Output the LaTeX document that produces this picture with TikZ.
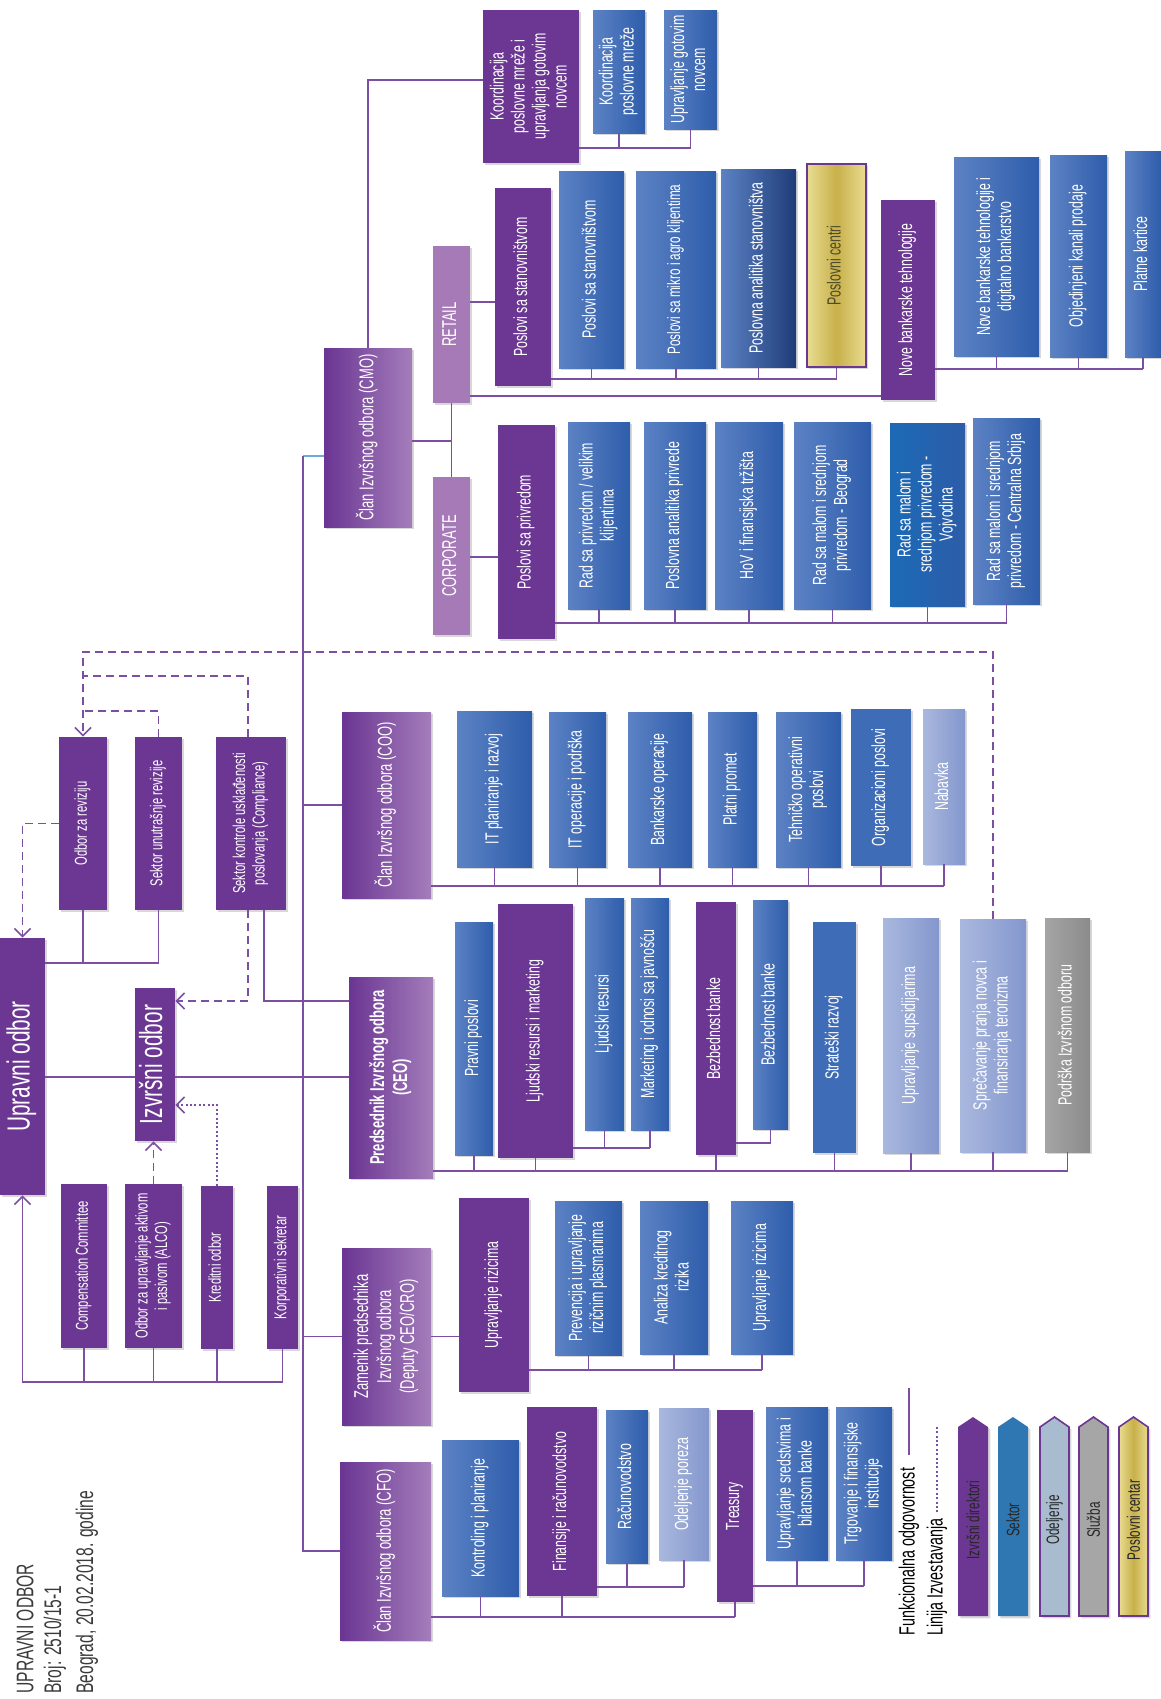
\documentclass[tikz,border=0pt]{standalone}
\usepackage{fontspec}
\setmainfont{Liberation Sans}[FakeStretch=0.65]
\usepackage{graphicx}
\usetikzlibrary{arrows.meta,shadows}
\definecolor{pp}{HTML}{6B3793}
\definecolor{memL}{HTML}{6A3593}
\definecolor{memR}{HTML}{A47DBA}
\definecolor{lpur}{HTML}{A67AB6}
\definecolor{blL}{HTML}{5C82C4}
\definecolor{blR}{HTML}{2E5DAB}
\definecolor{blS}{HTML}{3F6CB7}
\definecolor{navy}{HTML}{1F3C78}
\definecolor{sekL}{HTML}{1C6AB6}
\definecolor{sekR}{HTML}{2D5CA8}
\definecolor{liL}{HTML}{A9B8DE}
\definecolor{liR}{HTML}{8497CD}
\definecolor{grL}{HTML}{A5A5A5}
\definecolor{grR}{HTML}{8B8B8B}
\definecolor{goL}{HTML}{E9DC92}
\definecolor{goM}{HTML}{C8B04A}
\definecolor{goT}{HTML}{4B4A2A}
\definecolor{lc}{HTML}{7D4FA3}
\definecolor{lcb}{HTML}{6FA8DC}
\definecolor{hdr}{HTML}{3A3A3A}
\definecolor{lgSek}{HTML}{2F77B2}
\definecolor{lgOd}{HTML}{A9BCCF}
\definecolor{lgSl}{HTML}{A6A6A6}
\tikzset{
 bx/.style={draw=none, inner sep=0pt, text=white, font=\fontsize{9.5}{10.5}\selectfont,
   drop shadow={shadow xshift=1.2pt,shadow yshift=-1.2pt,opacity=0.3}},
 pur/.style={fill=pp},
 mem/.style={left color=memL, right color=memR},
 lpbox/.style={fill=lpur},
 blu/.style={left color=blL, right color=blR},
 bludark/.style={left color=blL, right color=navy},
 blusolid/.style={fill=blS},
 sek/.style={left color=sekL, right color=sekR},
 lite/.style={left color=liL, right color=liR},
 gray/.style={left color=grL, right color=grR},
 gold/.style={left color=goL, right color=goL, middle color=goM, draw=pp, line width=0.8pt, text=goT},
 fbig/.style={font=\fontsize{16}{18}\selectfont},
 fmem/.style={font=\fontsize{10}{11.5}\selectfont},
 fmemb/.style={font=\bfseries\fontsize{10}{11.5}\selectfont},
 fcom/.style={font=\fontsize{8.6}{9.8}\selectfont},
 fsm/.style={font=\fontsize{9}{10}\selectfont},
 ln/.style={draw=lc, line width=0.8pt},
 lnb/.style={draw=lcb, line width=0.8pt},
 dsh/.style={draw=lc, line width=0.8pt, dash pattern=on 4pt off 2.5pt},
 dotl/.style={draw=lc, line width=0.8pt, dash pattern=on 1pt off 1.2pt},
 arr/.style={-{Straight Barb[length=4pt,width=8pt]}},
 hdrtxt/.style={rotate=90, anchor=west, text=hdr, font=\fontsize{12}{13}\selectfont, inner sep=0pt},
 lgtxt/.style={rotate=90, anchor=west, text=black, font=\fontsize{11}{12}\selectfont, inner sep=0pt},
 lgbox/.style={rotate=90, text=black!85, font=\fontsize{9}{10}\selectfont, inner sep=0pt},
}
\newcommand\obx[7]{%
  \pgfmathsetmacro\obw{(#5-#3)*0.5}%
  \pgfmathsetmacro\obh{(#6-#4)*0.5}%
  \node[bx,#2,minimum width=\obw pt,minimum height=\obh pt] (#1) at ({(#3+#5)/2},{(#4+#6)/2})
    {\rotatebox{90}{\begin{tabular}{@{}c@{}}#7\end{tabular}}};}
\begin{document}
\begin{tikzpicture}[x=0.5pt,y=-0.5pt]
\fill[white] (0,0) rectangle (1161,1699);
\useasboundingbox (0,0) rectangle (1161,1699);

% header text
\node[hdrtxt] (h1) at (25,1694) {UPRAVNI ODBOR};
\node[hdrtxt] (h2) at (55,1694) {Broj: 2510/15-1};
\node[hdrtxt] (h3) at (87,1694) {Beograd, 20.02.2018. godine};

% bus levels
\coordinate (y80) at (0,80);
\coordinate (y148) at (0,148);
\coordinate (y302) at (0,302);
\coordinate (y369) at (0,369);
\coordinate (y379) at (0,379);
\coordinate (y396) at (0,396);
\coordinate (y441) at (0,441);
\coordinate (y557) at (0,557);
\coordinate (y623) at (0,623);
\coordinate (y652) at (0,652);
\coordinate (y676) at (0,676);
\coordinate (y711) at (0,711);
\coordinate (y886) at (0,886);
\coordinate (y963) at (0,963);
\coordinate (y1001) at (0,1001);
\coordinate (y1077) at (0,1077);
\coordinate (y1105) at (0,1105);
\coordinate (y1143) at (0,1143);
\coordinate (y1148) at (0,1148);
\coordinate (y1171) at (0,1171);
\coordinate (y1370) at (0,1370);
\coordinate (y1382) at (0,1382);
\coordinate (y1586) at (0,1586);
\coordinate (y1587) at (0,1587);
\coordinate (y1617) at (0,1617);
\coordinate (mvtop) at (303,456);

% governance
\obx{upravni}{pur,fbig}{0}{938}{45}{1195}{Upravni odbor}
\obx{izvrsni}{pur,fbig}{135}{988}{175}{1141}{Izvršni odbor}
\obx{odbor}{pur,fcom}{59}{737}{107}{910}{Odbor za reviziju}
\obx{sektorur}{pur,fcom}{135}{737}{182}{910}{Sektor unutrašnje revizije}
\obx{comp}{pur,fcom}{216}{737}{286}{910}{Sektor kontrole usklađenosti\\poslovanja (Compliance)}
\obx{compcom}{pur,fcom}{61}{1184}{107}{1348}{Compensation Committee}
\obx{alco}{pur,fcom}{125}{1184}{182}{1348}{Odbor za upravljanje aktivom\\i pasivom (ALCO)}
\obx{kred}{pur,fcom}{201}{1186}{233}{1349}{Kreditni odbor}
\obx{korp}{pur,fcom}{267}{1186}{298}{1349}{Korporativni sekretar}

% CMO
\obx{cmo}{mem,fmem}{324}{348}{412}{527}{Član Izvršnog odbora (CMO)}
\obx{retail}{lpbox,fmem}{433}{246}{470}{403}{RETAIL}
\obx{corporate}{lpbox,fmem}{433}{477}{470}{635}{CORPORATE}
\obx{koord}{pur}{483}{10}{579}{163}{Koordinacija\\poslovne mreže i\\upravljanja gotovim\\novcem}
\obx{koordpm}{blu}{593}{10}{645}{133}{Koordinacija\\poslovne mreže}
\obx{upgot}{blu}{664}{10}{717}{129}{Upravljanje gotovim\\novcem}
\obx{pss}{pur}{495}{188}{551}{386}{Poslovi sa stanovništvom}
\obx{pssb}{blu}{559}{171}{624}{368}{Poslovi sa stanovništvom}
\obx{mikro}{blu,fsm}{636}{171}{716}{368}{Poslovi sa mikro i agro klijentima}
\obx{analst}{bludark}{721}{169}{796}{367}{Poslovna analitika stanovništva}
\obx{pcentri}{gold}{807}{164}{866}{367}{Poslovni centri}
\obx{nbt}{pur}{881}{200}{935}{400}{Nove bankarske tehnologije}
\obx{nbtd}{blu}{954}{157}{1039}{356}{Nove bankarske tehnologije i\\digitalno bankarstvo}
\obx{okp}{blu}{1050}{155}{1107}{357}{Objedinjeni kanali prodaje}
\obx{platne}{blu}{1125}{151}{1161}{357}{Platne kartice}
\obx{pspriv}{pur}{498}{425}{555}{639}{Poslovi sa privredom}
\obx{velik}{blu}{568}{422}{630}{609}{Rad sa privredom / velikim\\klijentima}
\obx{analpriv}{blu}{644}{422}{706}{609}{Poslovna analitika privrede}
\obx{hov}{blu}{715}{422}{783}{609}{HoV i finansijska tržišta}
\obx{bgd}{blu}{794}{422}{871}{609}{Rad sa  malom i srednjom\\privredom -  Beograd}
\obx{vojv}{sek}{890}{423}{965}{606}{Rad sa  malom i\\srednjom privredom -\\Vojvodina}
\obx{csrb}{blu}{973}{418}{1040}{604}{Rad sa  malom i srednjom\\privredom - Centralna Srbija}

% COO
\obx{coo}{mem,fmem}{342}{712}{431}{898}{Član Izvršnog odbora (COO)}
\obx{itpr}{blu}{457}{711}{532}{867}{IT planiranje i razvoj}
\obx{itop}{blu}{549}{712}{606}{867}{IT operacije i podrška}
\obx{bankop}{blu}{628}{712}{692}{867}{Bankarske operacije}
\obx{platni}{blu}{708}{712}{757}{867}{Platni promet}
\obx{teh}{blu}{776}{712}{841}{867}{Tehničko operativni\\poslovi}
\obx{org}{blusolid}{851}{709}{911}{866}{Organizacioni poslovi}
\obx{nab}{lite}{923}{709}{965}{864}{Nabavka}

% CEO
\obx{ceo}{mem,fmemb}{349}{977}{433}{1178}{Predsednik Izvršnog odbora\\(CEO)}
\obx{pravni}{blu}{455}{922}{493}{1155}{Pravni poslovi}
\obx{ljrm}{pur}{498}{904}{573}{1158}{Ljudski resursi i marketing}
\obx{ljr}{blu}{585}{898}{624}{1130}{Ljudski resursi}
\obx{mark}{blu}{631}{898}{669}{1130}{Marketing i odnosi sa javnošću}
\obx{bezp}{pur}{696}{902}{736}{1155}{Bezbednost banke}
\obx{bezb}{blu}{753}{900}{788}{1129}{Bezbednost banke}
\obx{strat}{blusolid}{813}{922}{856}{1153}{Strateški razvoj}
\obx{sups}{lite}{883}{918}{939}{1153}{Upravljanje supsidijarima}
\obx{sprec}{lite}{960}{919}{1026}{1152}{Sprečavanje pranja novca i\\finansiranja terorizma}
\obx{podr}{gray}{1045}{918}{1090}{1152}{Podrška Izvršnom odboru}

% Deputy
\obx{dep}{mem,fmem}{342}{1248}{431}{1425}{Zamenik predsednika\\Izvršnog odbora\\(Deputy CEO/CRO)}
\obx{urp}{pur}{459}{1198}{529}{1392}{Upravljanje rizicima}
\obx{prev}{blu}{555}{1201}{622}{1355}{Prevencija i upravljanje\\rizičnim plasmanima}
\obx{anal}{blu}{640}{1201}{708}{1354}{Analiza kreditnog\\rizika}
\obx{urb}{blu}{731}{1201}{793}{1354}{Upravljanje rizicima}

% CFO
\obx{cfo}{mem,fmem}{340}{1462}{431}{1640}{Član Izvršnog odbora (CFO)}
\obx{kont}{blu}{442}{1440}{519}{1596}{Kontroling i planiranje}
\obx{fin}{pur}{527}{1407}{597}{1596}{Finansije i računovodstvo}
\obx{rac}{blu}{606}{1410}{648}{1563}{Računovodstvo}
\obx{por}{lite}{659}{1408}{709}{1560}{Odeljenje poreza}
\obx{treas}{pur}{717}{1410}{753}{1602}{Treasury}
\obx{usb}{blu}{766}{1407}{828}{1560}{Upravljanje sredstvima i\\bilansom banke}
\obx{trg}{blu}{836}{1407}{892}{1560}{Trgovanje i finansijske\\institucije}

% ---- connectors: governance
\draw[dsh,arr] (odbor.west) -| (upravni.north);
\draw[ln] (upravni.east |- y963) -- (sektorur.south |- y963);
\draw[ln] (odbor.south) -- (odbor.south |- y963);
\draw[ln] (sektorur.south) -- (sektorur.south |- y963);
\draw[dsh,arr] (sprec.north) |- (odbor.north |- y652) -- (odbor.north);
\draw[dsh] (sektorur.north) |- (odbor.north |- y711);
\draw[dsh] ([xshift=-1.5pt]comp.north) |- (odbor.north |- y676);
\draw[dsh,arr] ([xshift=-1.5pt]comp.south) |- (izvrsni.east |- y1001);
\draw[ln] ([xshift=6.5pt]comp.south) |- (ceo.west |- y1001);
\draw[ln] (upravni.east |- y1077) -- (izvrsni.west |- y1077);
\draw[ln] (izvrsni.east |- y1077) -- (ceo.west |- y1077);
\draw[ln,arr] (korp.south) |- (upravni.south |- y1382) -- (upravni.south);
\draw[ln] (compcom.south) -- (compcom.south |- y1382);
\draw[ln] (alco.south) -- (alco.south |- y1382);
\draw[ln] (kred.south) -- (kred.south |- y1382);
\draw[dsh,arr] (alco.north) -- (alco.north |- izvrsni.south);
\draw[dotl,arr] (kred.north) |- (izvrsni.east |- y1105);

% main vertical
\draw[lnb] (cmo.west |- mvtop) -- (mvtop);
\draw[ln] (mvtop) -- (mvtop |- cfo.west) -- (cfo.west);
\draw[ln] (mvtop |- coo.west) -- (coo.west);
\draw[ln] (mvtop |- dep.west) -- (dep.west);

% CMO
\draw[ln] (cmo.north) |- (koord.west |- y80);
\draw[ln] (koord.east |- y148) -- (upgot.south |- y148);
\draw[ln] (koordpm.south) -- (koordpm.south |- y148);
\draw[ln] (upgot.south) -- (upgot.south |- y148);
\draw[ln] (cmo.east |- y441) -- (retail.south |- y441);
\draw[ln] (retail.south) -- (corporate.north);
\draw[ln] (retail.east |- y302) -- (pss.west |- y302);
\draw[ln] (pss.east |- y379) -- (pcentri.south |- y379);
\foreach \n in {pssb,mikro,analst,pcentri} \draw[ln] (\n.south) -- (\n.south |- y379);
\draw[ln] (retail.east |- y396) -- (nbt.west |- y396);
\draw[ln] (nbt.east |- y369) -- (platne.south |- y369);
\foreach \n in {nbtd,okp,platne} \draw[ln] (\n.south) -- (\n.south |- y369);
\draw[ln] (corporate.east |- y557) -- (pspriv.west |- y557);
\draw[ln] (pspriv.east |- y623) -- (csrb.south |- y623);
\foreach \n in {velik,analpriv,hov,bgd,vojv,csrb} \draw[ln] (\n.south) -- (\n.south |- y623);

% COO
\draw[ln] (coo.east |- y886) -- (nab.south |- y886);
\foreach \n in {itpr,itop,bankop,platni,teh,org,nab} \draw[ln] (\n.south) -- (\n.south |- y886);

% CEO
\draw[ln] (ceo.east |- y1171) -- (podr.south |- y1171);
\foreach \n in {pravni,ljrm,bezp,strat,sups,sprec,podr} \draw[ln] (\n.south) -- (\n.south |- y1171);
\draw[ln] (ljrm.east |- y1148) -- (mark.south |- y1148);
\foreach \n in {ljr,mark} \draw[ln] (\n.south) -- (\n.south |- y1148);
\draw[ln] (bezp.east |- y1143) -- (bezb.south |- y1143);
\draw[ln] (bezb.south) -- (bezb.south |- y1143);

% Deputy
\draw[ln] (dep.east) -- (urp.west |- dep.east);
\draw[ln] (urp.east |- y1370) -- (urb.south |- y1370);
\foreach \n in {prev,anal,urb} \draw[ln] (\n.south) -- (\n.south |- y1370);

% CFO
\draw[ln] (cfo.east |- y1617) -- (treas.south |- y1617);
\foreach \n in {kont,fin,treas} \draw[ln] (\n.south) -- (\n.south |- y1617);
\draw[ln] (fin.east |- y1587) -- (por.south |- y1587);
\foreach \n in {rac,por} \draw[ln] (\n.south) -- (\n.south |- y1587);
\draw[ln] (treas.east |- y1586) -- (trg.south |- y1586);
\foreach \n in {usb,trg} \draw[ln] (\n.south) -- (\n.south |- y1586);

% legend
\node[lgtxt] (lf) at (909,1636) {Funkcionalna odgovornost};
\coordinate (lfend) at (909,1388);
\draw[ln] ([yshift=6pt]lf.east) -- (lfend);
\node[lgtxt] (ll) at (937,1636) {Linija Izvestavanja};
\coordinate (llend) at (937,1427);
\draw[dotl] ([yshift=3pt]ll.east) -- (llend);

\tikzset{pent/.style={drop shadow={shadow xshift=1.2pt,shadow yshift=-1.2pt,opacity=0.3}}}
\path[pent,fill=pp] (958,1616) -- (958,1427) -- (973,1417) -- (988,1427) -- (988,1616) -- cycle;
\path[pent,fill=lgSek] (998,1616) -- (998,1427) -- (1013,1417) -- (1028,1427) -- (1028,1616) -- cycle;
\path[pent,fill=lgOd,draw=pp,line width=0.8pt] (1040,1616) -- (1040,1427) -- (1054.5,1417) -- (1069,1427) -- (1069,1616) -- cycle;
\path[pent,fill=lgSl,draw=pp,line width=0.8pt] (1079,1616) -- (1079,1427) -- (1093.5,1417) -- (1108,1427) -- (1108,1616) -- cycle;
\path[pent,left color=goL,right color=goL,middle color=goM,draw=pp,line width=0.8pt] (1119,1616) -- (1119,1427) -- (1133.5,1417) -- (1148,1427) -- (1148,1616) -- cycle;
\node[lgbox] (lg1) at (973,1520) {Izvršni direktori};
\node[lgbox] (lg2) at (1013,1520) {Sektor};
\node[lgbox] (lg3) at (1054.5,1520) {Odeljenje};
\node[lgbox] (lg4) at (1093.5,1520) {Služba};
\node[lgbox] (lg5) at (1133.5,1520) {Poslovni centar};
\end{tikzpicture}
\end{document}
